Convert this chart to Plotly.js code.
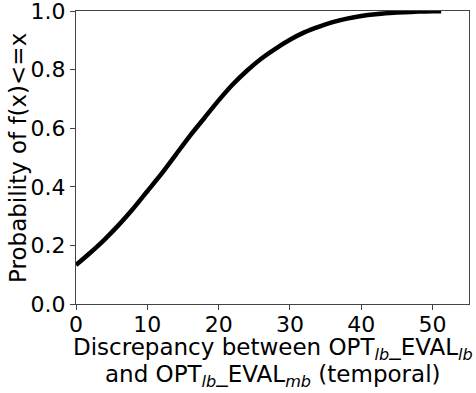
<!DOCTYPE html>
<html>
<head>
<meta charset="utf-8">
<script src="https://cdn.plot.ly/plotly-3.0.1.min.js"></script>
<style>html,body{margin:0;padding:0;background:#fff;}#chart{width:476px;height:393px;}</style>
</head>
<body>
<div id="chart"></div>
<script>
const discrepancy = [0, 2, 4, 6, 8, 10, 12, 14, 16, 18, 20, 22, 24, 26, 28, 30, 32, 34, 36, 38, 40, 42, 44, 46, 48, 50, 51.2];
const probability = [0.133, 0.175, 0.22, 0.27, 0.325, 0.385, 0.445, 0.51, 0.575, 0.635, 0.695, 0.75, 0.797, 0.838, 0.872, 0.902, 0.927, 0.946, 0.962, 0.974, 0.983, 0.989, 0.993, 0.996, 0.998, 0.999, 0.9995];
const xTicks = [0, 10, 20, 30, 40, 50];
const yTicks = [0.0, 0.2, 0.4, 0.6, 0.8, 1.0];

const font = {family: 'DejaVu Sans', size: 22, color: '#000'};
const titleFont = {family: 'DejaVu Sans', size: 23, color: '#000'};
const trace = {
  x: discrepancy, y: probability, type: 'scatter', mode: 'lines',
  line: {color: '#000', width: 4.5, shape: 'spline', smoothing: 0.6},
  hoverinfo: 'skip'
};
const axisCommon = {
  showgrid: false, zeroline: false, showline: true, mirror: true,
  linecolor: '#444', linewidth: 1, ticks: 'outside', ticklen: 5, tickwidth: 1,
  tickcolor: '#444', tickfont: font, ticklabeloverflow: 'allow'
};
const layout = {
  width: 476, height: 393,
  margin: {l: 76, r: 7, t: 11, b: 89},
  paper_bgcolor: '#fff', plot_bgcolor: '#fff',
  showlegend: false,
  font: font,
  xaxis: Object.assign({}, axisCommon, {range: [0, 55.1], tickvals: xTicks, ticktext: xTicks.map(String), ticklabelstandoff: -4}),
  yaxis: Object.assign({}, axisCommon, {range: [0, 1.0001], tickvals: yTicks, ticktext: yTicks.map(v => v.toFixed(1))}),
  annotations: [
    {xref: 'paper', yref: 'paper', x: -0.149, y: 0.5, xanchor: 'center', yanchor: 'middle',
     textangle: -90, showarrow: false, text: 'Probability of f(x)<=x', font: titleFont},
    {xref: 'paper', yref: 'paper', x: 0.5, y: -0.153, xanchor: 'center', yanchor: 'middle',
     showarrow: false, text: 'Discrepancy between OPT<sub><i>lb</i></sub>_EVAL<sub><i>lb</i></sub>', font: titleFont},
    {xref: 'paper', yref: 'paper', x: 0.5, y: -0.246, xanchor: 'center', yanchor: 'middle',
     showarrow: false, text: 'and OPT<sub><i>lb</i></sub>_EVAL<sub><i>mb</i></sub> (temporal)', font: titleFont}
  ]
};
Plotly.newPlot('chart', [trace], layout, {staticPlot: true, displayModeBar: false});
</script>
</body>
</html>
